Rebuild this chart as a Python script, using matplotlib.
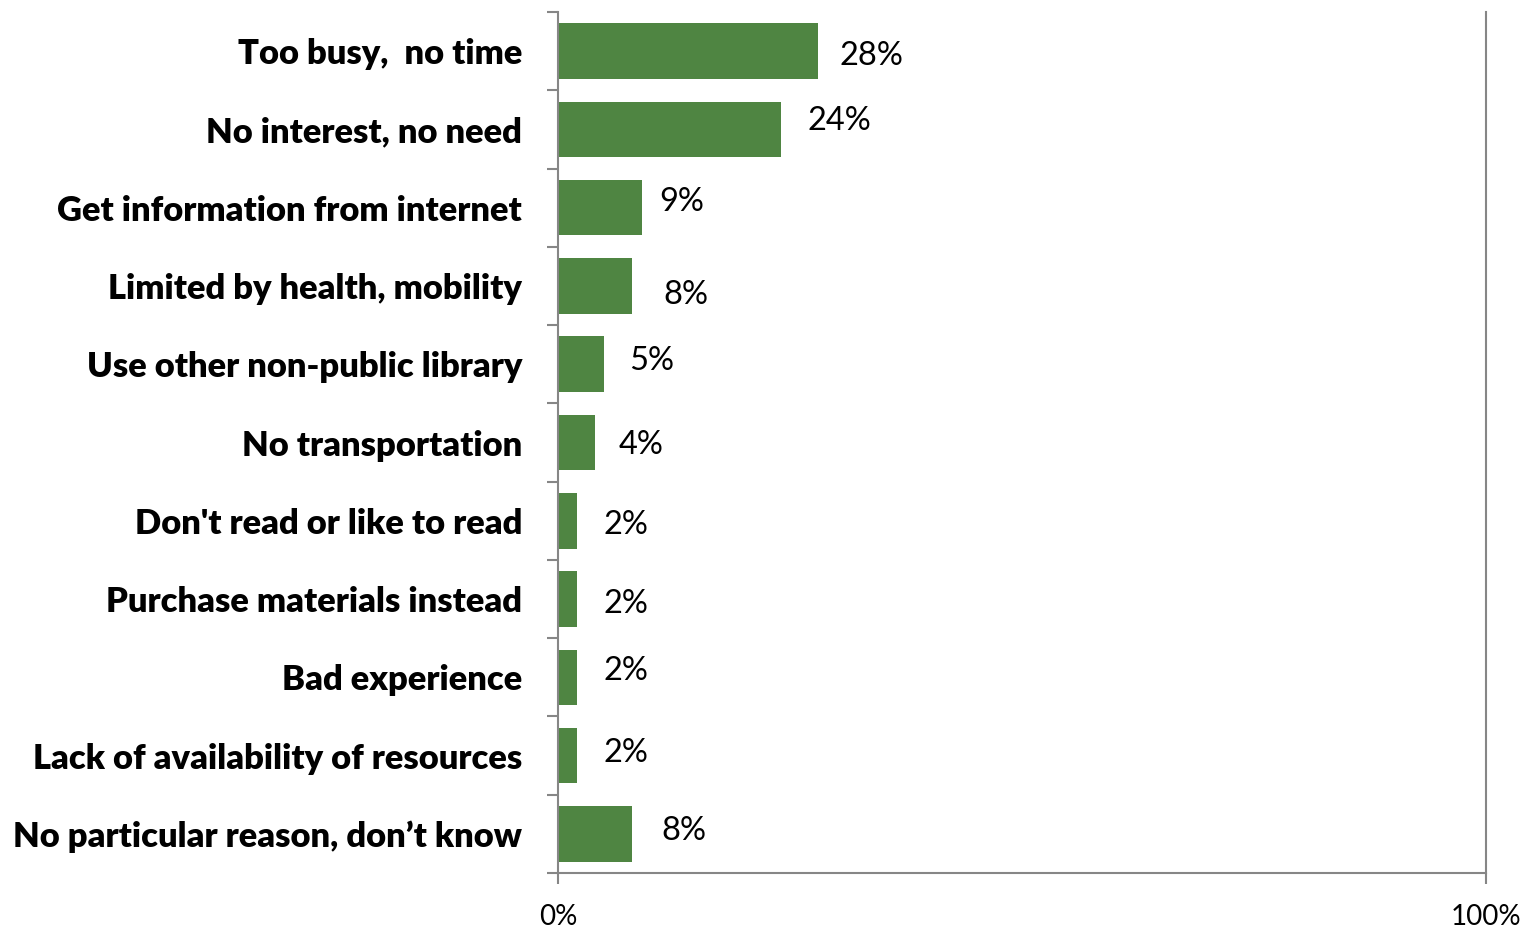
import matplotlib
matplotlib.use("Agg")
import matplotlib.pyplot as plt
from matplotlib.ticker import FixedLocator

# ── data ───────────────────────────────────────────────────────────────────────
reasons = [
    "Too busy,  no time",
    "No interest, no need",
    "Get information from internet",
    "Limited by health, mobility",
    "Use other non-public library",
    "No transportation",
    "Don't read or like to read",
    "Purchase materials instead",
    "Bad experience",
    "Lack of availability of resources",
    "No particular reason, don\u2019t know",
]
shares = [0.28, 0.24, 0.09, 0.08, 0.05, 0.04, 0.02, 0.02, 0.02, 0.02, 0.08]
value_labels = ["28%", "24%", "9%", "8%", "5%", "4%", "2%", "2%", "2%", "2%", "8%"]

# label nudges in pixels (dx, dy) – labels sit a little off-centre
label_nudge = [(22, -5), (27, 8), (18, 6), (31, -9), (25, 3), (24, -2),
               (27, -4), (27, -5), (27, 6), (27, 3), (29, 3)]

BAR_COLOR = "#4F8542"
AXIS_COLOR = "#868686"
FONT = "Lato"

# ── figure ─────────────────────────────────────────────────────────────────────
W, H = 1524, 927
fig = plt.figure(figsize=(W / 100, H / 100), dpi=100)
ax = fig.add_axes([558 / W, 1 - 873 / H, (1486 - 558) / W, (873 - 12) / H])

n = len(reasons)
ypos = list(range(n))
ax.barh(ypos, shares, height=0.71, color=BAR_COLOR, zorder=2)

ax.set_xlim(0, 1)
ax.set_ylim(n - 0.5, -0.5)

for y, v, lab, (dx, dy) in zip(ypos, shares, value_labels, label_nudge):
    ax.annotate(lab, xy=(v, y), xytext=(dx, dy), textcoords="offset pixels",
                ha="left", va="center", fontsize=23.5, family=FONT, color="black")

# category labels on the left, boundary ticks between categories
ax.set_yticks(ypos)
ax.set_yticklabels(reasons, fontsize=24.8, fontweight="heavy", family=FONT)
ax.tick_params(axis="y", which="major", length=0, pad=26)
ax.yaxis.set_minor_locator(FixedLocator([i - 0.5 for i in range(n + 1)]))
ax.tick_params(axis="y", which="minor", length=8, width=1.5, color=AXIS_COLOR)

ax.set_xticks([0, 1])
ax.set_xticklabels(["0%", "100%"], fontsize=20, family=FONT)
ax.tick_params(axis="x", length=8, width=1.5, color=AXIS_COLOR, pad=14)

for side in ["left", "right", "bottom"]:
    ax.spines[side].set_color(AXIS_COLOR)
    ax.spines[side].set_linewidth(1.5)
ax.spines["top"].set_visible(False)

fig.savefig("out.png", dpi=100)
